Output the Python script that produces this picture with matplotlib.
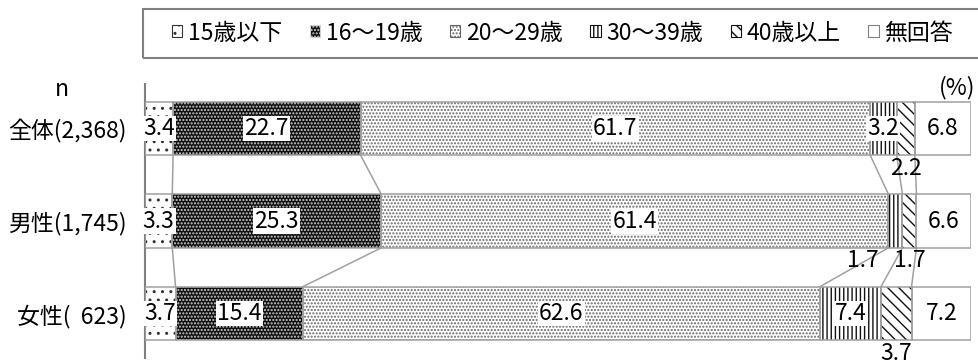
import numpy as np
import matplotlib
matplotlib.use("Agg")
import matplotlib.pyplot as plt
from matplotlib.patches import Patch, Rectangle

plt.rcParams['font.family'] = ['Noto Sans CJK JP', 'DejaVu Sans']
plt.rcParams['hatch.linewidth'] = 1.0

categories = ["全体(2,368)", "男性(1,745)", "女性(  623)"]
age_groups = ["15歳以下", "16～19歳", "20～29歳", "30～39歳", "40歳以上", "無回答"]
under15 = [3.4, 3.3, 3.7]
age16_19 = [22.7, 25.3, 15.4]
age20_29 = [61.7, 61.4, 62.6]
age30_39 = [3.2, 1.7, 7.4]
age40_up = [2.2, 1.7, 3.7]
no_answer = [6.8, 6.6, 7.2]
series = [under15, age16_19, age20_29, age30_39, age40_up, no_answer]

# (face, hatch, hatch colour) per segment
styles = [
    ("white", "..", "#333333"),
    ("#111111", ".....", "#d0d0d0"),
    ("white", ".....", "#666666"),
    ("white", "||||", "#111111"),
    ("white", "\\\\\\", "#111111"),
    ("white", "", "#808080"),
]
EDGE = "#a0a0a0"
FS = 16.5
BAR_H = 0.58
outside = {(0, 4), (1, 3), (1, 4), (2, 4)}   # labels drawn below the bar
nudge = {(1, 3): -4.0}                      # shift crowded labels sideways

fig = plt.figure(figsize=(9.79, 3.63), dpi=100)
ax = fig.add_axes([145 / 979, 1 - 358 / 363, 826 / 979, 274 / 363])

y = np.arange(len(categories))
data = np.array(series)
left = np.zeros(len(categories))
bounds = []
for k, vals in enumerate(data):
    face, hatch, hc = styles[k]
    ax.barh(y, vals, left=left, height=BAR_H, color=face, hatch=hatch,
            edgecolor=hc, linewidth=0, zorder=2)
    ax.barh(y, vals, left=left, height=BAR_H, color="none",
            edgecolor=EDGE, linewidth=1.1, zorder=3)
    for i, v in enumerate(vals):
        cx = left[i] + v / 2 + nudge.get((i, k), 0)
        if (i, k) in outside:
            ax.text(cx, i + 0.43, f"{v:.1f}", ha="center", va="center",
                    fontsize=FS, zorder=5)
        else:
            ax.text(cx, i, f"{v:.1f}", ha="center", va="center", fontsize=FS,
                    zorder=5, bbox=dict(boxstyle="square,pad=0.05",
                                        fc="white", ec="none"))
    left = left + vals
    if k < len(data) - 1:
        bounds.append(left.copy())

# connector lines between rows
for b in bounds:
    for i in range(len(categories) - 1):
        ax.plot([b[i], b[i + 1]], [i + BAR_H / 2, i + 1 - BAR_H / 2],
                color=EDGE, lw=1.1, zorder=1)

ax.set_xlim(0, 100)
ax.set_ylim(len(categories) - 0.52, -0.48)
ax.set_yticks(y)
ax.set_yticklabels(categories, fontsize=FS)
ax.tick_params(axis="y", length=0, pad=13)
ax.set_xticks([])
for s in ["top", "right", "bottom"]:
    ax.spines[s].set_visible(False)
ax.spines["left"].set_color("#808080")
ax.spines["left"].set_linewidth(1.5)

fig.text(975 / 979, 1 - 88 / 363, "(%)", ha="right", va="center", fontsize=FS)
fig.text(62 / 979, 1 - 90 / 363, "n", ha="center", va="center", fontsize=FS)

handles = [Patch(facecolor=f, hatch=h, edgecolor=c, linewidth=0.8)
           for f, h, c in styles]
fig.legend(handles, age_groups, ncol=6, loc="center left",
           bbox_to_anchor=(172 / 979, 1 - 33 / 363), frameon=False,
           fontsize=FS, handlelength=0.45, handleheight=0.45,
           handletextpad=0.25, columnspacing=1.2, borderpad=0,
           borderaxespad=0)
fig.patches.append(Rectangle((143 / 979, 1 - 58 / 363), 1.0, 49 / 363,
                             transform=fig.transFigure, fill=False,
                             edgecolor="#808080", linewidth=1.5))

fig.savefig("out.png", dpi=100)
